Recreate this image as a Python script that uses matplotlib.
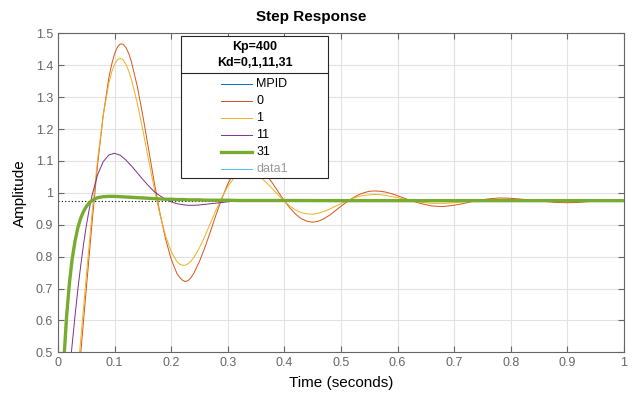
import numpy as np
import matplotlib.pyplot as plt
from matplotlib.patches import Rectangle
from matplotlib.ticker import FuncFormatter

plt.rcParams['font.family'] = ['Liberation Sans', 'DejaVu Sans']

# step responses for Kp=400 and Kd = 0, 1 (oscillating; denser samples at the extrema)
t_osc = [0.00, 0.01, 0.02, 0.03, 0.04, 0.05, 0.06, 0.07, 0.08, 0.09,
         0.095, 0.10, 0.105, 0.11, 0.115, 0.12, 0.125, 0.13, 0.14, 0.15,
         0.16, 0.17, 0.18, 0.19, 0.20, 0.21, 0.215, 0.22, 0.225, 0.23,
         0.235, 0.24, 0.25, 0.26, 0.27, 0.28, 0.29, 0.30, 0.31, 0.32,
         0.325, 0.33, 0.335, 0.34, 0.345, 0.35, 0.355, 0.36, 0.37, 0.38,
         0.39, 0.40, 0.41, 0.42, 0.43, 0.44, 0.45, 0.46, 0.47, 0.48,
         0.49, 0.50, 0.51, 0.52, 0.53, 0.54, 0.55, 0.56, 0.57, 0.58,
         0.59, 0.60, 0.62, 0.64, 0.66, 0.68, 0.70, 0.72, 0.74, 0.76,
         0.78, 0.80, 0.82, 0.84, 0.86, 0.88, 0.90, 0.92, 0.94, 0.96,
         0.98, 1.00]
kd0 = [0.000, 0.038, 0.144, 0.301, 0.493, 0.699, 0.903, 1.089, 1.244, 1.362,
       1.404, 1.436, 1.457, 1.467, 1.466, 1.456, 1.437, 1.409, 1.335, 1.241,
       1.138, 1.034, 0.938, 0.856, 0.792, 0.748, 0.735, 0.726, 0.722, 0.725,
       0.734, 0.748, 0.785, 0.831, 0.882, 0.935, 0.984, 1.028, 1.060, 1.083,
       1.090, 1.095, 1.097, 1.097, 1.094, 1.090, 1.083, 1.074, 1.053, 1.028,
       1.001, 0.975, 0.952, 0.933, 0.919, 0.911, 0.908, 0.911, 0.919, 0.930,
       0.944, 0.958, 0.971, 0.983, 0.993, 1.000, 1.005, 1.006, 1.005, 1.002,
       0.997, 0.991, 0.978, 0.967, 0.959, 0.957, 0.961, 0.968, 0.976, 0.981,
       0.984, 0.983, 0.980, 0.977, 0.973, 0.970, 0.969, 0.970, 0.973, 0.976,
       0.977, 0.978]
kd1 = [0.000, 0.057, 0.177, 0.344, 0.537, 0.739, 0.933, 1.105, 1.244, 1.345,
       1.379, 1.403, 1.418, 1.422, 1.417, 1.403, 1.382, 1.354, 1.282, 1.196,
       1.104, 1.014, 0.933, 0.866, 0.816, 0.785, 0.776, 0.773, 0.773, 0.778,
       0.786, 0.797, 0.828, 0.866, 0.908, 0.949, 0.987, 1.020, 1.044, 1.060,
       1.065, 1.068, 1.068, 1.067, 1.064, 1.059, 1.053, 1.046, 1.029, 1.011,
       0.992, 0.974, 0.958, 0.946, 0.938, 0.934, 0.933, 0.936, 0.942, 0.949,
       0.958, 0.966, 0.975, 0.982, 0.988, 0.992, 0.994, 0.995, 0.994, 0.992,
       0.988, 0.985, 0.977, 0.971, 0.967, 0.967, 0.969, 0.973, 0.976, 0.979,
       0.980, 0.979, 0.978, 0.976, 0.975, 0.974, 0.974, 0.974, 0.975, 0.976,
       0.976, 0.976]

# Kd = 11 and 31 rise fast, so the start is sampled more densely
t_fast = [0, 0.005, 0.01, 0.015, 0.02, 0.025, 0.03, 0.035, 0.04, 0.045,
          0.05, 0.055, 0.06, 0.07, 0.08, 0.09, 0.10, 0.11, 0.12, 0.13,
          0.14, 0.15, 0.16, 0.17, 0.18, 0.19, 0.20, 0.21, 0.22, 0.23,
          0.24, 0.25, 0.26, 0.27, 0.28, 0.29, 0.30, 0.32, 0.34, 0.36,
          0.38, 0.40, 0.50, 0.60, 0.70, 0.80, 0.90, 1.00]
kd11 = [0.000, 0.110, 0.219, 0.326, 0.428, 0.524, 0.613, 0.696, 0.770, 0.837,
        0.896, 0.947, 0.991, 1.057, 1.098, 1.119, 1.124, 1.118, 1.103, 1.084,
        1.063, 1.042, 1.022, 1.004, 0.991, 0.980, 0.972, 0.966, 0.963, 0.961,
        0.961, 0.962, 0.964, 0.966, 0.968, 0.970, 0.972, 0.975, 0.976, 0.977,
        0.977, 0.976, 0.9756, 0.9756, 0.9756, 0.9756, 0.9756, 0.9756]
kd31 = [0.000, 0.267, 0.464, 0.608, 0.714, 0.792, 0.848, 0.890, 0.920, 0.941,
        0.957, 0.968, 0.976, 0.985, 0.988, 0.989, 0.989, 0.988, 0.987, 0.986,
        0.985, 0.984, 0.983, 0.982, 0.981, 0.980, 0.980, 0.979, 0.979, 0.978,
        0.978, 0.978, 0.977, 0.977, 0.977, 0.977, 0.977, 0.976, 0.976, 0.976,
        0.976, 0.976, 0.9756, 0.9756, 0.9756, 0.9756, 0.9756, 0.9756]
y_final = 0.9756

legend_title = ['Kp=400', 'Kd=0,1,11,31']
legend_names = ['MPID', '0', '1', '11', '31', 'data1']
legend_colors = ['#0072BD', '#D95319', '#EDB120', '#7E2F8E', '#77AC30', '#4DBEEE']
legend_widths = [0.7, 0.7, 0.7, 0.7, 2.4, 0.7]

fig = plt.figure(figsize=(6.38, 3.95), dpi=100)
ax = fig.add_axes([0.0909, 0.108, 0.887, 0.8075])

ax.axhline(y_final, color='k', lw=0.8, ls=(0, (1, 2)), zorder=1)
ax.plot(t_osc, kd0, color=legend_colors[1], lw=0.7, zorder=2)
ax.plot(t_osc, kd1, color=legend_colors[2], lw=0.7, zorder=2)
ax.plot(t_fast, kd11, color=legend_colors[3], lw=0.7, zorder=2)
ax.plot(t_fast, kd31, color=legend_colors[4], lw=2.4, zorder=3)

ax.set_xlim(0, 1)
ax.set_ylim(0.5, 1.5)
ax.set_xticks(np.arange(0, 1.01, 0.1))
ax.set_yticks(np.arange(0.5, 1.51, 0.1))
fmt = FuncFormatter(lambda v, p: '%g' % round(v, 2))
ax.xaxis.set_major_formatter(fmt)
ax.yaxis.set_major_formatter(fmt)
ax.tick_params(direction='in', length=4, width=0.8, colors='#666666',
               labelsize=9, top=True, right=True)
for s in ax.spines.values():
    s.set_color('#666666')
    s.set_linewidth(0.8)
ax.grid(True, color='#e2e2e2', lw=0.8)
ax.set_axisbelow(True)

ax.set_xlabel('Time (seconds)', fontsize=11, labelpad=5)
ax.set_ylabel('Amplitude', fontsize=11, labelpad=6)
fig.text(0.488, 0.957, 'Step Response', fontsize=11, fontweight='bold',
         ha='center', va='center')

# legend box with a two-line title
x0, x1, y0, y1 = 0.2173, 0.477, 0.547, 0.9915
ax.add_patch(Rectangle((x0, y0), x1 - x0, y1 - y0, transform=ax.transAxes,
                       facecolor='white', edgecolor='#262626', lw=0.8, zorder=5))
ax.plot([x0, x1], [0.875, 0.875], transform=ax.transAxes, color='#262626',
        lw=0.8, zorder=6)
for txt, yy in zip(legend_title, [0.958, 0.906]):
    ax.text((x0 + x1) / 2, yy, txt, transform=ax.transAxes, ha='center',
            va='center', fontsize=9, fontweight='bold', zorder=6)
for i, (name, c, w) in enumerate(zip(legend_names, legend_colors, legend_widths)):
    yy = 0.840 - i * 0.053
    ax.plot([0.2889, 0.342], [yy, yy], transform=ax.transAxes, color=c, lw=w,
            zorder=6)
    ax.text(0.3505, yy, name, transform=ax.transAxes, va='center', fontsize=9,
            color='#999999' if name == 'data1' else 'black', zorder=6)

fig.savefig('out.png', dpi=100)
